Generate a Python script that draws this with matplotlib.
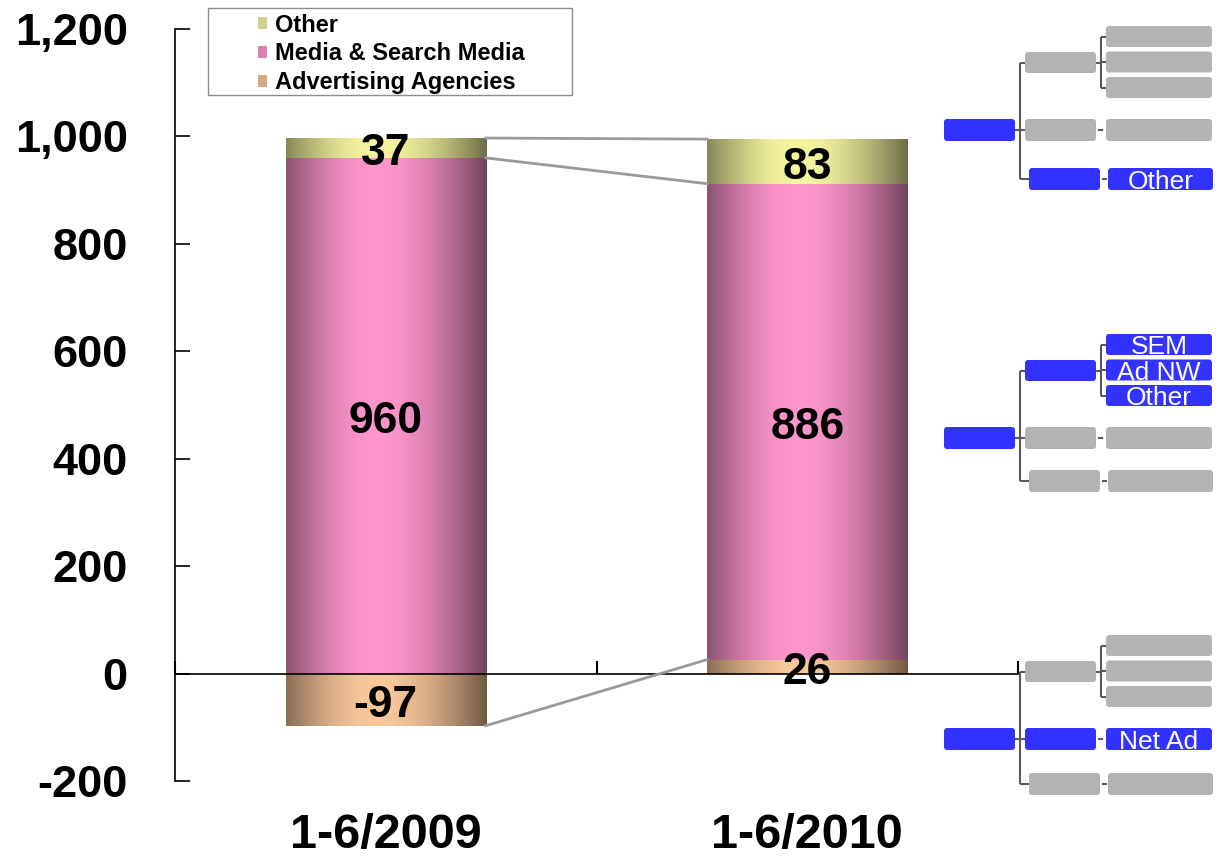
import matplotlib
matplotlib.use("Agg")
import matplotlib.pyplot as plt
import numpy as np
from matplotlib.patches import Rectangle, FancyBboxPatch
from matplotlib.ticker import FuncFormatter
from matplotlib.transforms import offset_copy

plt.rcParams.update({
    "font.family": ["Liberation Sans", "DejaVu Sans"],
    "font.weight": "bold",
    "axes.unicode_minus": False,
})

# data (EUR m, contribution by segment)
periods = ["1-6/2009", "1-6/2010"]
advertising = [-97, 26]
media = [960, 886]
other = [37, 83]
series_names = ["Other", "Media & Search Media", "Advertising Agencies"]

W, H = 1221, 865
PINK = np.array([255, 150, 205]) / 255
YELLOW = np.array([245, 245, 160]) / 255
TAN = np.array([250, 200, 155]) / 255
BLUE = "#3333ff"
GREY = "#b3b3b3"
LINE = "#5a5a5a"


def shade(rgb, n=256):
    # cylinder-like horizontal shading: dark edges, highlight left of centre
    t = np.linspace(0, 1, n)
    peak = 0.45
    f = np.where(t < peak,
                 0.55 + 0.45 * np.sin(t / peak * np.pi / 2),
                 0.45 + 0.55 * np.cos((t - peak) / (1 - peak) * np.pi / 2))
    return np.clip(rgb[None, :] * f[:, None], 0, 1)[None, :, :]


def gradient_bars(ax, xs, heights, bottoms, rgb, width):
    bars = ax.bar(xs, heights, width, bottom=bottoms, color="none",
                  edgecolor="none", zorder=2)
    img = shade(rgb)
    for b in bars:
        x0, y0 = b.get_x(), b.get_y()
        im = ax.imshow(img, extent=(x0, x0 + b.get_width(), y0, y0 + b.get_height()),
                       aspect="auto", interpolation="bilinear", zorder=2)
        im.set_clip_path(b)
    return bars


fig = plt.figure(figsize=(W / 100, H / 100), dpi=100)
ax = fig.add_axes([175 / W, 84 / H, 843 / W, 752 / H])

x = np.arange(len(periods))
width = 0.475
adv = np.array(advertising, dtype=float)
med = np.array(media, dtype=float)
oth = np.array(other, dtype=float)
med_bottom = np.maximum(adv, 0)
oth_bottom = med_bottom + med

gradient_bars(ax, x, adv, 0, TAN, width)
gradient_bars(ax, x, med, med_bottom, PINK, width)
gradient_bars(ax, x, oth, oth_bottom, YELLOW, width)

# series lines between the bars
for tops in (oth_bottom + oth, med_bottom + med, adv):
    ax.plot([x[0] + width / 2, x[1] - width / 2], [tops[0], tops[1]],
            color="#9a9a9a", lw=2, zorder=3)

# value labels (nudged down a few pixels to sit like the original)
lab_tr = offset_copy(ax.transData, fig=fig, x=0, y=-6, units="dots")
for i in x:
    ax.text(i, oth_bottom[i] + oth[i] / 2, f"{other[i]:.0f}", ha="center",
            va="center", fontsize=32, zorder=4, transform=lab_tr)
    ax.text(i, med_bottom[i] + med[i] / 2, f"{media[i]:.0f}", ha="center",
            va="center", fontsize=32, zorder=4, transform=lab_tr)
    ax.text(i, adv[i] / 2, f"{advertising[i]:.0f}", ha="center",
            va="center", fontsize=32, zorder=4, transform=lab_tr)

ax.set_xlim(-0.5, 1.5)
ax.set_ylim(-200, 1200)
ax.set_aspect("auto")

ax.set_yticks(np.arange(-200, 1201, 200))
ax.yaxis.set_major_formatter(FuncFormatter(lambda v, p: f"{v:,.0f}"))
ax.tick_params(axis="y", direction="in", length=10.8, width=1.2,
               labelsize=32.5, pad=34)
ax.set_xticks([-0.5, 0.5, 1.5])
ax.set_xticklabels([])
ax.tick_params(axis="x", direction="in", length=9.4, width=1.5)
ax.spines["bottom"].set_position(("data", 0))
ax.spines["bottom"].set_linewidth(1.2)
ax.spines["left"].set_linewidth(1.2)
ax.spines["top"].set_visible(False)
ax.spines["right"].set_visible(False)

for i, p in zip(x, periods):
    ax.text(i, -0.073, p, transform=ax.get_xaxis_transform(), ha="center",
            va="center", fontsize=35)

# overlay in pixel coordinates: legend box and segment tree
ov = fig.add_axes([0, 0, 1, 1], zorder=5)
ov.set_xlim(0, W)
ov.set_ylim(H, 0)
ov.axis("off")
ov.patch.set_alpha(0)

ov.add_patch(Rectangle((208, 8), 364, 87, fill=False, ec="#8c8c8c", lw=1))
for k, (name, col) in enumerate(zip(series_names, [YELLOW, PINK, TAN])):
    yc = 23 + 29 * k
    ov.add_patch(Rectangle((258, yc - 6), 9, 12, fc=col * 0.85, ec="none"))
    ov.text(275, yc + 2, name, ha="left", va="center", fontsize=17)


def node(xy, w, h, blue, label=None):
    x0, y0 = xy
    ov.add_patch(FancyBboxPatch((x0, y0), w, h, boxstyle="round,pad=0,rounding_size=3",
                                fc=BLUE if blue else GREY, ec="none"))
    if label:
        ov.text(x0 + w / 2, y0 + h - 1, label, color="white", fontsize=19,
                fontweight="normal", ha="center", va="baseline")


def seg(xs, ys):
    ov.plot(xs, ys, color=LINE, lw=1.5, solid_capstyle="butt")


def draw_tree(top, low_dy, blue, labels):
    rc = top + 11
    node((944, top), 71, 22, True)
    # upper branch with three leaves
    a = top - 67
    node((1025, a), 71, 21, "a" in blue)
    leaves = [top - 93 + 25.5 * i for i in range(3)]
    for j, ly in enumerate(leaves):
        node((1106, ly), 106, 21, "a" in blue, labels.get(("a", j)))
    # middle branch
    node((1025, top), 71, 22, "b" in blue)
    node((1106, top), 106, 22, "b" in blue, labels.get("b"))
    # lower branch
    c = top + low_dy
    node((1029, c), 71, 22, "c" in blue)
    node((1108, c), 105, 22, "c" in blue, labels.get("c"))
    # connectors
    seg([1015, 1025], [rc, rc])
    seg([1020, 1020], [a + 10.5, c + 11])
    seg([1020, 1025], [a + 10.5, a + 10.5])
    seg([1020, 1029], [c + 11, c + 11])
    seg([1096, 1101], [a + 10.5, a + 10.5])
    seg([1101, 1101], [leaves[0] + 10.5, leaves[2] + 10.5])
    for ly in leaves:
        seg([1101, 1106], [ly + 10.5, ly + 10.5])
    seg([1098, 1103], [rc, rc])
    seg([1102, 1107], [c + 11, c + 11])


draw_tree(119, 49, {"c"}, {"c": "Other"})
draw_tree(427, 43, {"a"}, {("a", 0): "SEM", ("a", 1): "Ad NW", ("a", 2): "Other"})
draw_tree(728, 45, {"b"}, {"b": "Net Ad"})

fig.savefig("out.png", dpi=100)
